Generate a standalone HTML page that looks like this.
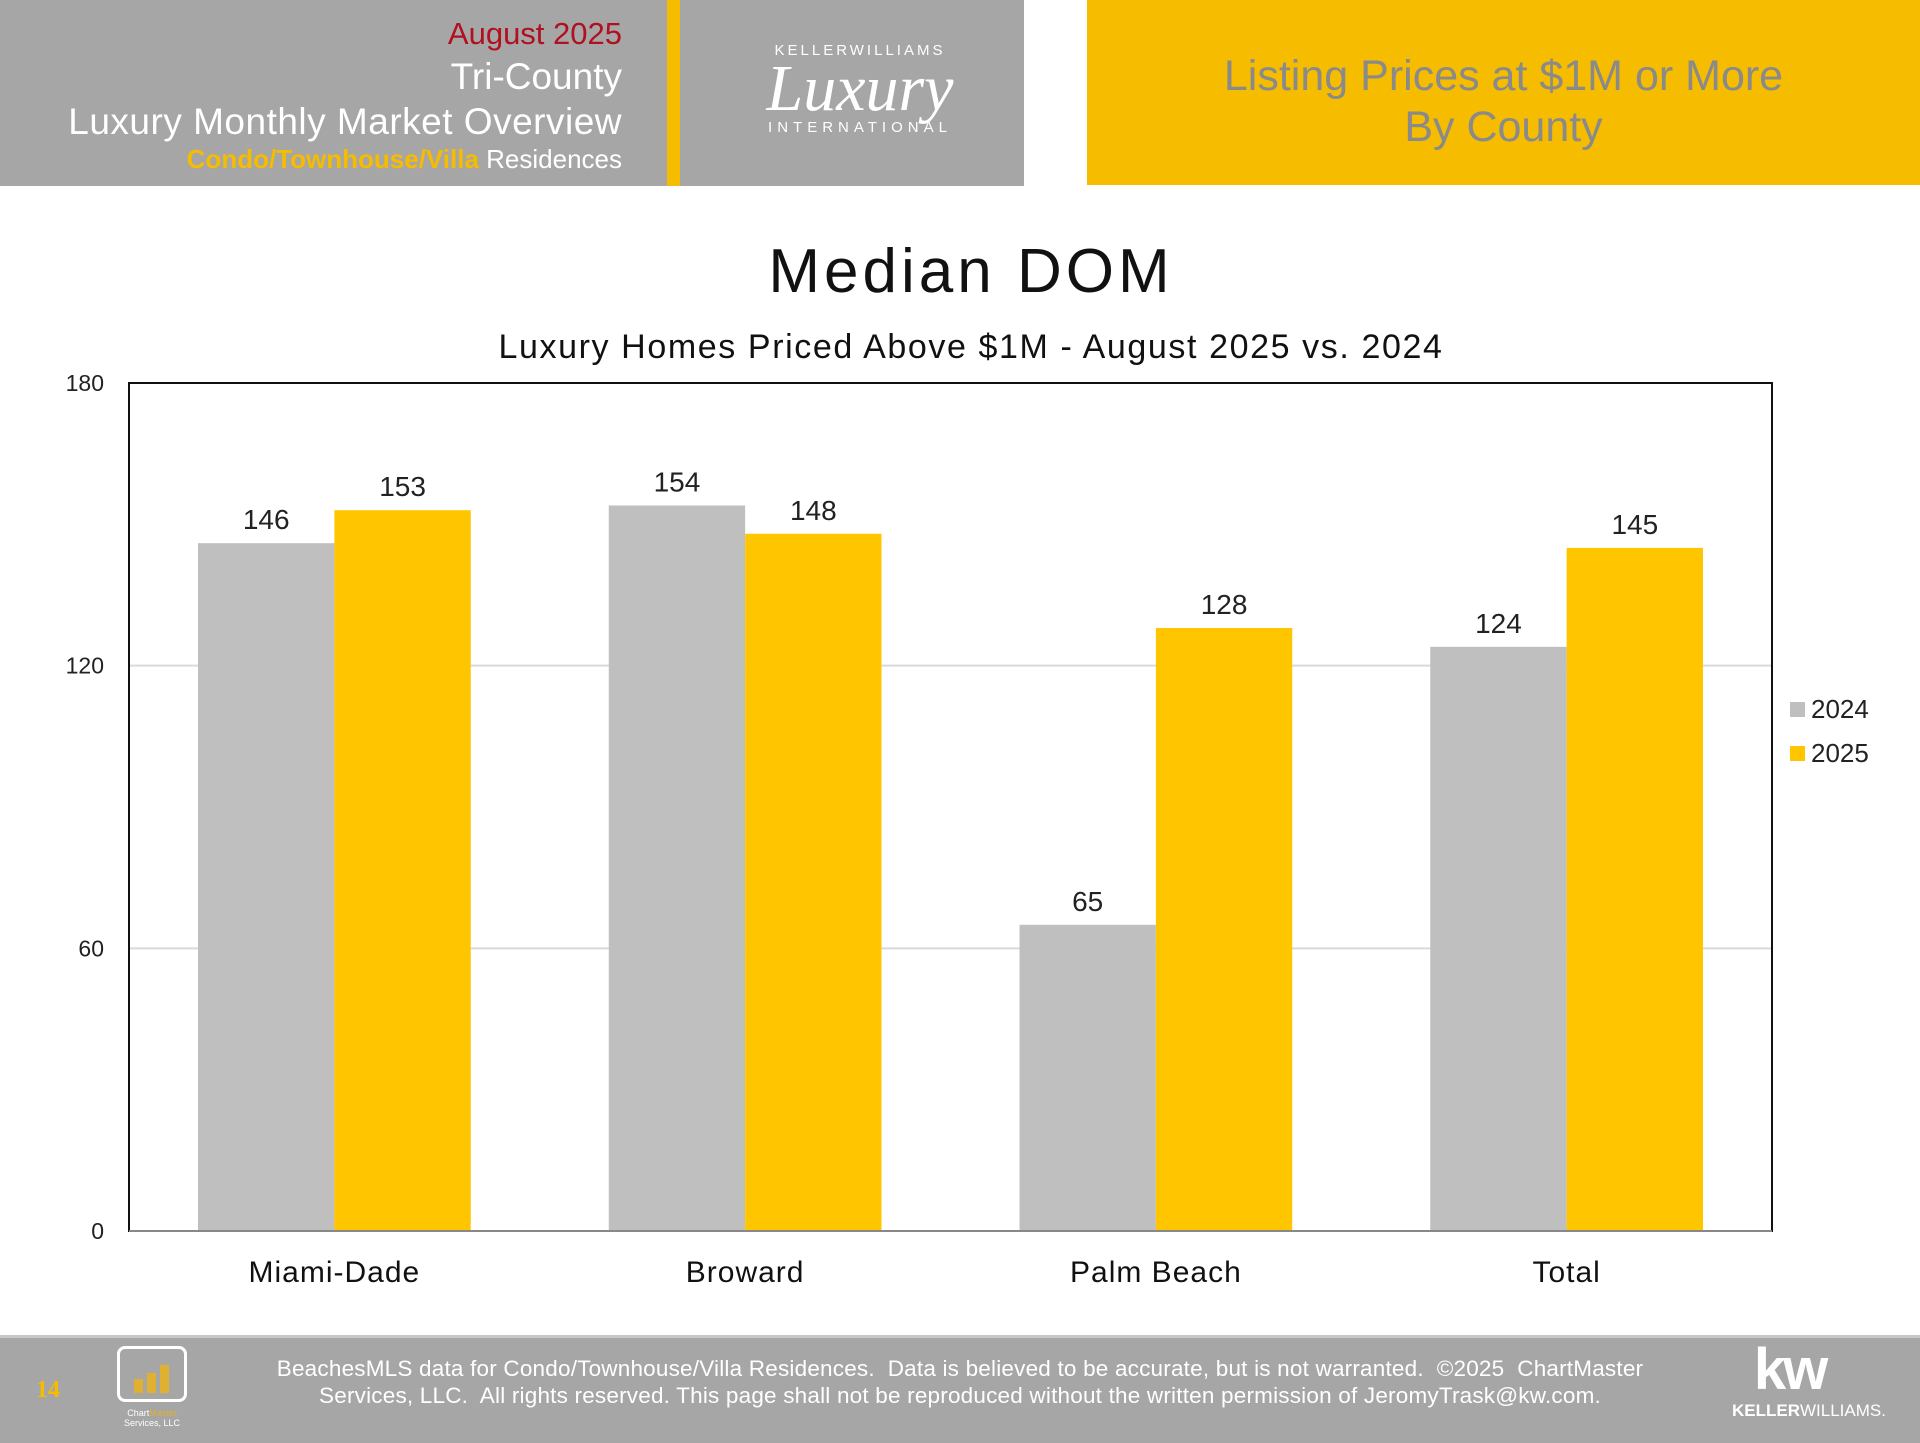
<!DOCTYPE html>
<html><head><meta charset="utf-8"><style>
body{margin:0;width:1920px;height:1440px;position:relative;background:#fff;font-family:"Liberation Sans",sans-serif;overflow:hidden}
.a{position:absolute}
</style></head><body>
<div class="a" style="left:0;top:0;width:1024px;height:186px;background:#a6a6a6"></div>
<div class="a" style="left:667px;top:0;width:13px;height:186px;background:#f5bc00"></div>
<div class="a" style="right:1298px;top:18px;text-align:right;color:#fff;line-height:1">
 <div style="color:#b01020;font-size:31px;height:40px">August 2025</div>
 <div style="font-size:37px;height:45px">Tri-County</div>
 <div style="font-size:37px;height:43px;letter-spacing:0.5px">Luxury Monthly Market Overview</div>
 <div style="font-size:26px"><b style="color:#f5bc00">Condo/Townhouse/Villa</b> Residences</div>
</div>
<div class="a" style="left:700px;top:42px;width:320px;text-align:center;color:#fff">
 <div style="font-size:15px;letter-spacing:3px">KELLERWILLIAMS</div>
 <div style="font-family:'Liberation Serif',serif;font-style:italic;font-size:66px;line-height:60px">Luxury</div>
 <div style="font-size:15px;letter-spacing:5px">INTERNATIONAL</div>
</div>
<div class="a" style="left:1087px;top:0;width:833px;height:185px;background:#f5bc00;color:#8a8a8a;font-size:43px;text-align:center;line-height:51px;box-sizing:border-box;padding-top:51px">Listing Prices at $1M or More<br>By County</div>

<div class="a" style="left:0;width:1942px;top:236px;text-align:center;font-size:62px;letter-spacing:4px;color:#111">Median DOM</div>
<div class="a" style="left:0;width:1942px;top:328px;text-align:center;font-size:34px;letter-spacing:1.6px;color:#111">Luxury Homes Priced Above $1M - August 2025 vs. 2024</div>

<svg class="a" style="left:0;top:0" width="1920" height="1440" id="chart"></svg>

<div class="a" style="left:0;top:1335px;width:1920px;height:105px;background:#a6a6a6;border-top:3px solid #c8c8c8"></div>
<div class="a" style="left:36px;top:1377px;color:#f5bc00;font-family:'Liberation Serif',serif;font-size:24px;font-weight:bold">14</div>
<div class="a" style="left:117px;top:1346px;width:70px;height:56px;border:3px solid #fff;border-radius:8px;box-sizing:border-box">
 <div class="a" style="left:14px;bottom:6px;width:9px;height:14px;background:#e0b030"></div>
 <div class="a" style="left:27px;bottom:6px;width:9px;height:20px;background:#e0b030"></div>
 <div class="a" style="left:40px;bottom:6px;width:9px;height:28px;background:#e0b030"></div>
</div>
<div class="a" style="left:110px;top:1408px;width:84px;text-align:center;color:#fff;font-size:9px;line-height:10px">Chart<span style="color:#e0b030">Master</span><br>Services, LLC</div>
<div class="a" style="left:200px;width:1520px;top:1355px;text-align:center;color:#fff;font-size:22.5px;line-height:27px;letter-spacing:0.2px">BeachesMLS data for Condo/Townhouse/Villa Residences.&nbsp; Data is believed to be accurate, but is not warranted.&nbsp; ©2025&nbsp; ChartMaster<br>Services, LLC.&nbsp; All rights reserved. This page shall not be reproduced without the written permission of JeromyTrask@kw.com.</div>
<div class="a" style="left:1732px;top:1345px;color:#fff;text-align:center;width:115px">
 <div style="font-size:58px;font-weight:bold;line-height:50px;letter-spacing:-3px">kw</div>
 <div style="font-size:17px;margin-top:6px"><b>KELLER</b>WILLIAMS.</div>
</div>

<script>
const categories=["Miami-Dade","Broward","Palm Beach","Total"];
const series2024=[146,154,65,124];
const series2025=[153,148,128,145];
const yTicks=[0,60,120,180];
const seriesNames=["2024","2025"];
const svg=document.getElementById('chart');
const NS='http://www.w3.org/2000/svg';
const L=129,R=1772,T=383,B=1231,yMax=180;
const y=v=>B-(v/yMax)*(B-T);
const cw=(R-L)/categories.length;
const x=i=>L+cw*i;
function mk(t,a,txt){const e=document.createElementNS(NS,t);for(const k in a)e.setAttribute(k,a[k]);if(txt!=null)e.textContent=txt;svg.appendChild(e);return e;}
yTicks.forEach(v=>{
 if(v>0&&v<yMax){const g=mk('line',{x1:L,x2:R,y1:y(v),y2:y(v),stroke:'#d9d9d9','stroke-width':2});
 
 }
 const t=mk('text',{x:L-25,y:y(v)+8,'text-anchor':'end','font-size':23,fill:'#222','font-family':'Liberation Sans'},v);
 
 
});
const f=mk('rect',{x:L,y:T,width:R-L,height:B-T,fill:'none',stroke:'#111','stroke-width':2});


const bw=cw*0.332;
const colors=['#bfbfbf','#ffc600'];
[series2024,series2025].forEach((s,si)=>{
 s.forEach((v,i)=>{
  const bx=x(i)+cw/2-bw+si*bw;
  const r=mk('rect',{x:bx,y:y(v),width:bw,height:B-y(v),fill:colors[si]});
  
  
  const t=mk('text',{x:bx+bw/2,y:y(v)-14,'text-anchor':'middle','font-size':28,fill:'#222','font-family':'Liberation Sans'},v);
  
  
 });
});
const ax=mk('line',{x1:L,x2:R,y1:B,y2:B,stroke:'#888','stroke-width':2});


categories.forEach((c,i)=>{
 const t=mk('text',{x:x(i)+cw/2,y:1282,'text-anchor':'middle','font-size':30,'letter-spacing':1,fill:'#111','font-family':'Liberation Sans'},c);
 
 
});
seriesNames.forEach((n,i)=>{
 const ly=702+i*44;
 const r=mk('rect',{x:1790,y:ly,width:15,height:15,fill:colors[i]});
 
 
 const t=mk('text',{x:1811,y:ly+16,'font-size':26,fill:'#222','font-family':'Liberation Sans'},n);
 
 
});
</script>
</body></html>
